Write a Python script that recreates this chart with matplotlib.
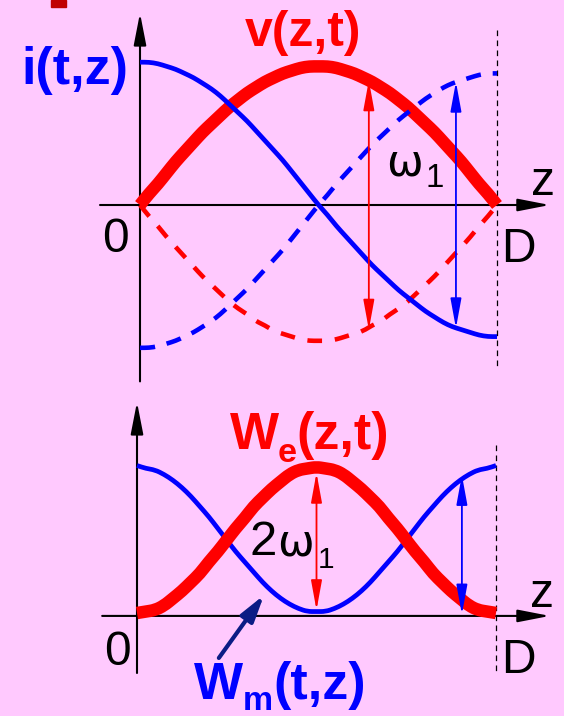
import numpy as np
import matplotlib.pyplot as plt
from matplotlib.patches import Rectangle, PathPatch
from matplotlib.path import Path

W, H = 564, 716
pink = '#ffc9fe'
red = '#ff0000'
blue = '#0000ff'
navy = '#0b1c85'

# position along the line, 0 .. D
z = [i / 40 for i in range(41)]

# top panel: voltage (red) and current (blue), solid and dashed instants
v_solid = [0.0, 0.08, 0.15, 0.23, 0.31, 0.38, 0.45, 0.52, 0.58, 0.64, 0.70,
           0.75, 0.80, 0.84, 0.88, 0.91, 0.94, 0.96, 0.98, 0.99, 0.99,
           0.99, 0.98, 0.96, 0.94, 0.91, 0.88, 0.84, 0.80, 0.75, 0.70,
           0.64, 0.58, 0.52, 0.45, 0.38, 0.31, 0.23, 0.15, 0.08, 0.0]
v_dashed = [0.0, -0.08, -0.15, -0.23, -0.30, -0.37, -0.44, -0.51, -0.57, -0.63, -0.69,
            -0.74, -0.78, -0.83, -0.86, -0.90, -0.92, -0.94, -0.96, -0.97, -0.97,
            -0.97, -0.96, -0.94, -0.92, -0.90, -0.86, -0.83, -0.78, -0.74, -0.69,
            -0.63, -0.57, -0.51, -0.44, -0.37, -0.30, -0.23, -0.15, -0.08, 0.0]
i_solid = [1.02, 1.02, 1.01, 0.99, 0.97, 0.94, 0.91, 0.87, 0.83, 0.78, 0.72,
           0.66, 0.60, 0.53, 0.46, 0.39, 0.32, 0.24, 0.16, 0.08, 0.0,
           -0.07, -0.15, -0.22, -0.29, -0.36, -0.43, -0.49, -0.55, -0.61, -0.66,
           -0.71, -0.76, -0.80, -0.84, -0.87, -0.89, -0.91, -0.93, -0.94, -0.94]
i_dashed = [-v for v in i_solid]

# bottom panel: electric (red) and magnetic (blue) energy
w_e = [0.0, 0.01, 0.02, 0.05, 0.10, 0.15, 0.21, 0.27, 0.35, 0.42, 0.50,
       0.58, 0.65, 0.73, 0.79, 0.85, 0.90, 0.95, 0.98, 0.99, 1.0,
       0.99, 0.98, 0.95, 0.90, 0.85, 0.79, 0.73, 0.65, 0.58, 0.50,
       0.42, 0.35, 0.27, 0.21, 0.15, 0.10, 0.05, 0.02, 0.01, 0.0]
w_m = [1.01, 0.99, 0.98, 0.95, 0.91, 0.86, 0.80, 0.73, 0.66, 0.58, 0.50,
       0.42, 0.35, 0.28, 0.21, 0.15, 0.10, 0.06, 0.03, 0.01, 0.01,
       0.01, 0.03, 0.06, 0.10, 0.15, 0.21, 0.28, 0.35, 0.42, 0.50,
       0.58, 0.66, 0.73, 0.80, 0.86, 0.91, 0.95, 0.98, 0.99, 1.01]

# double arrows: (z, top, bottom)
top_red_arrow = (0.641, 0.89, -0.89)
top_blue_arrow = (0.885, 0.88, -0.88)
bot_red_arrow = (0.5, 0.96, 0.02)
bot_blue_arrow = (0.905, 0.945, -0.01)

fig = plt.figure(figsize=(W / 100, H / 100), dpi=100, facecolor=pink)
plt.rcParams['font.family'] = ['Liberation Sans', 'DejaVu Sans']


def put(x, y, s, px, **kw):
    # text placed by pixel position of its baseline
    kw.setdefault('va', 'baseline')
    kw.setdefault('ha', 'left')
    fig.text(x / W, 1 - y / H, s, fontsize=px * 0.72, **kw)


def curve(ax, xs, ys, **kw):
    # smooth line through the read points (points used as quadratic controls)
    pts = list(zip(xs, ys))
    mids = [((a[0] + b[0]) / 2, (a[1] + b[1]) / 2) for a, b in zip(pts[:-1], pts[1:])]
    verts = [pts[0], mids[0]]
    codes = [Path.MOVETO, Path.LINETO]
    for k in range(1, len(pts) - 1):
        verts += [pts[k], mids[k]]
        codes += [Path.CURVE3, Path.CURVE3]
    verts.append(pts[-1])
    codes.append(Path.LINETO)
    ax.add_patch(PathPatch(Path(verts, codes), fill=False, capstyle='butt',
                           joinstyle='round', **kw))


def axis_arrow(ax, xy, xytext):
    ax.annotate('', xy=xy, xytext=xytext, zorder=1,
                arrowprops=dict(arrowstyle='-|>,head_length=1.95,head_width=0.38',
                                mutation_scale=10, lw=1.5, color='k',
                                shrinkA=0, shrinkB=0))


def double_arrow(ax, a, color):
    ax.annotate('', xy=(a[0], a[1]), xytext=(a[0], a[2]), zorder=6,
                arrowprops=dict(arrowstyle='<|-|>,head_length=1.8,head_width=0.33',
                                mutation_scale=10, lw=1.3, color=color,
                                shrinkA=0, shrinkB=0))


# ---- top panel ----
ax1 = fig.add_axes([0, 1 - 392 / H, 1, 392 / H])
ax1.set_xlim(-140 / 357, 424 / 357)
ax1.set_ylim(-(392 - 205) / 140, 205 / 140)
ax1.axis('off')

axis_arrow(ax1, (0, 1.371), (0, -1.26))
axis_arrow(ax1, (1.148, 0), (-0.112, 0))
ax1.plot([1, 1], [1.25, -1.164], color='k', lw=0.9, dashes=(4.5, 3.5), zorder=1)

curve(ax1, z, v_solid, edgecolor=red, lw=9.0, zorder=3)
curve(ax1, z, v_dashed, edgecolor=red, lw=3.3, linestyle=(0, (3.2, 2.8)), zorder=2)
curve(ax1, z, i_solid, edgecolor=blue, lw=3.4, zorder=4)
curve(ax1, z, i_dashed, edgecolor=blue, lw=3.3, linestyle=(0, (3.3, 2.6)), zorder=4)
double_arrow(ax1, top_red_arrow, red)
double_arrow(ax1, top_blue_arrow, blue)

# ---- bottom panel ----
ax2 = fig.add_axes([0, 0, 1, (H - 392) / H])
ax2.set_xlim(-137 / 359, 427 / 359)
ax2.set_ylim(-(H - 613) / 146, (613 - 392) / 146)
ax2.axis('off')

axis_arrow(ax2, (0, 1.445), (0, -0.411))
axis_arrow(ax2, (1.150, -0.02), (-0.097, -0.02))
ax2.plot([1, 1], [1.151, -0.425], color='k', lw=0.9, dashes=(4.5, 3.5), zorder=1)

curve(ax2, z, w_m, edgecolor=blue, lw=3.4, zorder=3)
curve(ax2, z, w_e, edgecolor=red, lw=9.0, zorder=4)
double_arrow(ax2, bot_red_arrow, red)
double_arrow(ax2, bot_blue_arrow, blue)
ax2.annotate('', xy=(0.354, 0.123), xytext=(0.228, -0.308), zorder=6,
             arrowprops=dict(arrowstyle='-|>,head_length=1.6,head_width=0.45',
                             mutation_scale=10, lw=3.0, color=navy,
                             shrinkA=0, shrinkB=0))

# ---- labels ----
put(128, 84, 'i(t,z)', 52, color=blue, weight='bold', ha='right')
put(303, 46, 'v(z,t)', 50, color=red, weight='bold', ha='center')
put(386, 175, 'ω', 44, family='DejaVu Sans')
put(426, 187, '1', 33)
put(531, 195, 'z', 48)
put(102, 252, '0', 48)
put(501, 262, 'D', 48)

put(230, 449, 'W', 52, color=red, weight='bold')
put(278, 462, 'e', 34, color=red, weight='bold')
put(296, 449, '(z,t)', 52, color=red, weight='bold')
put(194, 699, 'W', 52, color=blue, weight='bold')
put(243, 710, 'm', 34, color=blue, weight='bold')
put(273, 699, '(t,z)', 52, color=blue, weight='bold')
put(250, 555, '2', 49)
put(277, 555, 'ω', 44, family='DejaVu Sans')
put(318, 568, '1', 30)
put(530, 607, 'z', 48)
put(104, 665, '0', 48)
put(501, 673, 'D', 48)

# bit of a cut-off title at the top left
fig.patches.append(Rectangle((51 / W, 1 - 7 / H), 15 / W, 7 / H,
                             transform=fig.transFigure, color='#c00000'))

fig.savefig('out.png', dpi=100, facecolor=pink)
